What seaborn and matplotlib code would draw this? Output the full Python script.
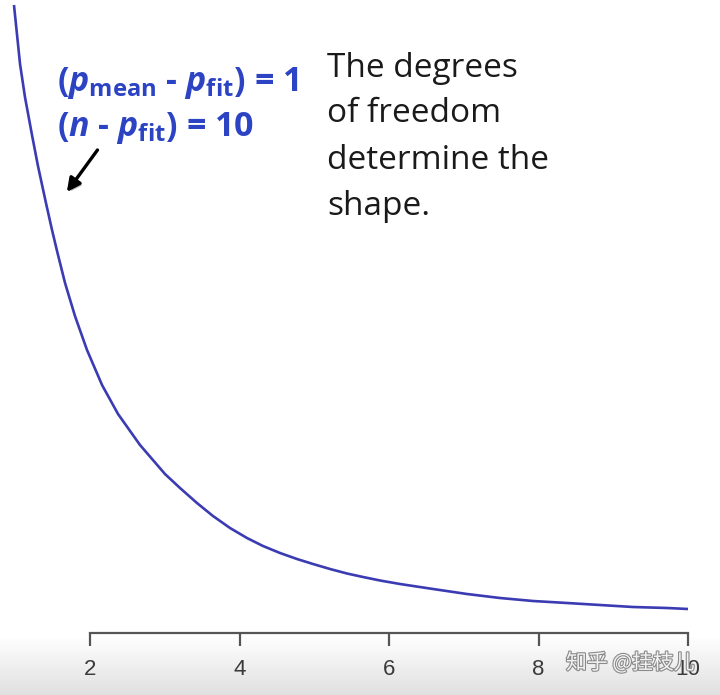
import numpy as np
import pandas as pd
import matplotlib
matplotlib.use("Agg")
import matplotlib.pyplot as plt
import matplotlib.patheffects as pe
import seaborn as sns

# ---- data (F-distribution density, df = 1, 10) ----
x_vals = [0.983, 1.064, 1.130, 1.224, 1.304, 1.411, 1.492, 1.559, 1.666, 1.799,
          1.960, 2.161, 2.375, 2.669, 3.003, 3.204, 3.431, 3.645, 3.873, 4.100,
          4.314, 4.542, 4.769, 4.983, 5.211, 5.438, 5.652, 5.880, 6.147, 6.589,
          7.043, 7.485, 7.926, 8.381, 8.823, 9.264, 9.719, 10.000]
y_vals = [0.3075, 0.2780, 0.2615, 0.2425, 0.2270, 0.2085, 0.1950, 0.1845, 0.1685, 0.1520,
          0.1350, 0.1175, 0.1030, 0.0875, 0.0730, 0.0660, 0.0585, 0.0520, 0.0460, 0.0410,
          0.0370, 0.0335, 0.0305, 0.0280, 0.0255, 0.02325, 0.0215, 0.01975, 0.0180, 0.0155,
          0.0130, 0.0110, 0.0095, 0.0085, 0.0075, 0.0065, 0.0060, 0.0055]
tick_vals = [2, 4, 6, 8, 10]
tick_labels = ["2", "4", "6", "8", "10"]

df = pd.DataFrame({"F": x_vals, "density": y_vals})

sns.set_theme(style="white")
plt.rcParams["font.family"] = ["DejaVu Sans"]
plt.rcParams["mathtext.fontset"] = "custom"
plt.rcParams["mathtext.rm"] = "Open Sans:bold"
plt.rcParams["mathtext.bf"] = "Open Sans:bold"
plt.rcParams["mathtext.it"] = "Open Sans:italic:bold"

W, H = 720, 695
fig = plt.figure(figsize=(W / 100, H / 100), dpi=100)
fig.patch.set_facecolor("white")

# bottom grey shading (white at top, grey at bottom)
bg = fig.add_axes([0, 0, 1, 58 / H], zorder=0)
grad = np.linspace(0.0, 1.0, 100).reshape(-1, 1)
bg.imshow(grad, aspect="auto", cmap=matplotlib.colors.LinearSegmentedColormap.from_list(
    "g", ["#e0e0e0", "#ffffff"]), extent=[0, 1, 0, 1], origin="lower", vmin=0, vmax=1)
bg.set_axis_off()

ax = fig.add_axes([0, 0, 1, 1], zorder=1)
ax.patch.set_alpha(0)

sns.lineplot(data=df, x="F", y="density", ax=ax, color="#3b3bb3", linewidth=1.9,
             estimator=None, sort=False)
for ln in ax.lines:
    ln.set_solid_joinstyle("round")
    ln.set_solid_capstyle("butt")

# pixel mapping: x px = 90 + (x-2)*74.75 ; y px = 620 - y*2000
ax.set_xlim(2 - 90 / 74.75, 2 + 630 / 74.75)
ax.set_ylim((620 - H) / 2000, 620 / 2000)

for s in ["top", "right", "left"]:
    ax.spines[s].set_visible(False)
ax.spines["bottom"].set_position(("data", (620 - 633) / 2000))
ax.spines["bottom"].set_bounds(2, 10)
ax.spines["bottom"].set_color("#555555")
ax.spines["bottom"].set_linewidth(1.6)
ax.set_xticks(tick_vals)
ax.set_xticklabels(tick_labels)
ax.tick_params(axis="x", bottom=True, direction="out", length=9, width=1.6,
               color="#555555", pad=10, labelsize=16, labelcolor="#3a3a3a")
for lab in ax.get_xticklabels():
    lab.set_fontfamily(["Liberation Sans"])
ax.set_yticks([])
ax.set_xlabel("")
ax.set_ylabel("")

blue = "#2c44c4"
fig.text(57 / W, 1 - 91 / H,
         r"$(p_{\mathrm{mean}}\text{ - }p_{\mathrm{fit}})\text{ = 1}$",
         color=blue, fontsize=24.5, ha="left", va="baseline")
fig.text(57 / W, 1 - 136 / H,
         r"$(n\text{ - }p_{\mathrm{fit}})\text{ = 10}$",
         color=blue, fontsize=24.5, ha="left", va="baseline")

lines = ["The degrees", "of freedom", "determine the", "shape."]
bases = [77, 122, 169, 215]
for t, b in zip(lines, bases):
    fig.text(327 / W, 1 - b / H, t, fontsize=24, family=["Open Sans"],
             color="#1a1a1a", ha="left", va="baseline")

ax.annotate("", xy=(1.69, (620 - 192) / 2000), xytext=(2.10, (620 - 150) / 2000),
            arrowprops=dict(arrowstyle="-|>", color="black", lw=2.4,
                            mutation_scale=20, shrinkA=0, shrinkB=0,
                            path_effects=[pe.SimplePatchShadow(offset=(1.5, -1.5), alpha=0.3),
                                          pe.Normal()]))

fig.text(566 / W, 1 - 663 / H, "知乎 @挂枝儿", fontsize=15,
         family=["Noto Sans CJK SC", "DejaVu Sans"], color="#f2f2f2",
         ha="left", va="center", zorder=5,
         path_effects=[pe.withStroke(linewidth=1.6, foreground="#8a8a8a")])

fig.savefig("out.png", dpi=100)
